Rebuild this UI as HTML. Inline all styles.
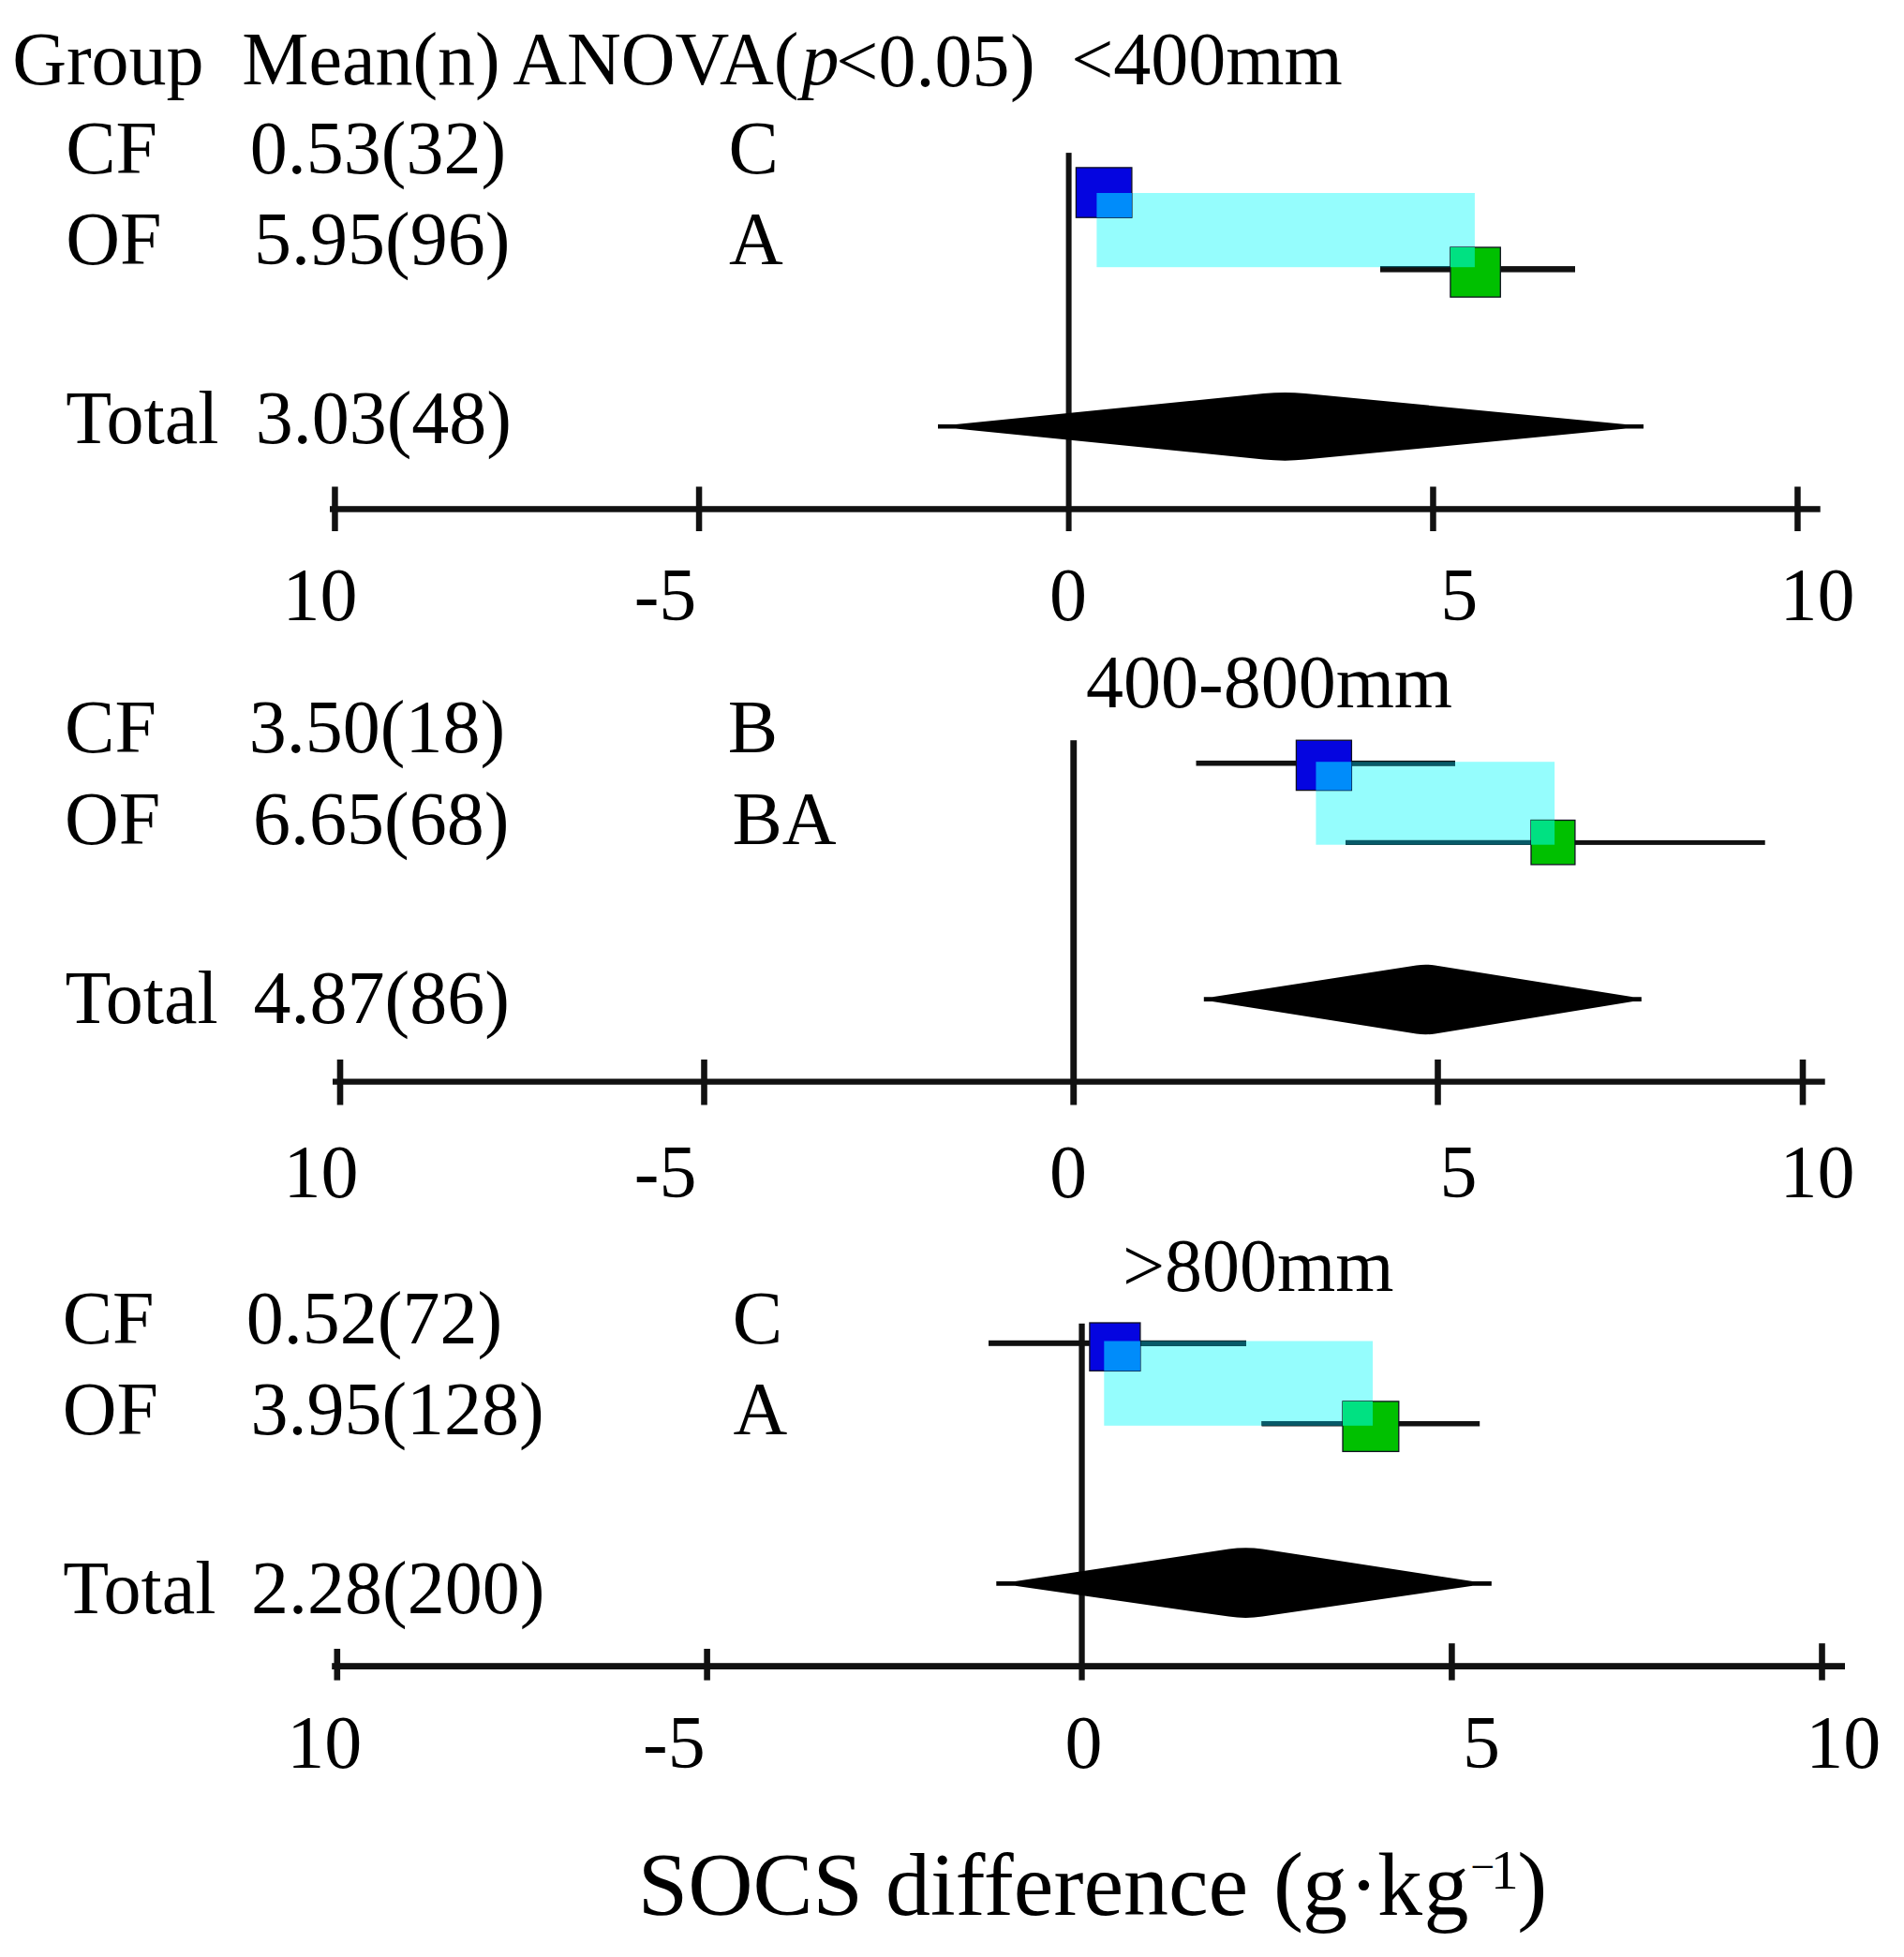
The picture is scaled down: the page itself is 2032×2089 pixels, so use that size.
<!DOCTYPE html>
<html><head><meta charset="utf-8"><title>SOCS difference forest plot</title>
<style>
html,body{margin:0;padding:0;background:#fff;}
body{width:2032px;height:2089px;overflow:hidden;}
svg{display:block;}
text{font-family:"Liberation Serif","Times New Roman",Times,serif;fill:#000;}
</style></head>
<body>
<svg width="2032" height="2089" viewBox="0 0 2032 2089">
<rect width="2032" height="2089" fill="#fff"/>
<rect x="352.0" y="540.2" width="1590.7" height="6.5" fill="#111"/>
<rect x="354.2" y="519.5" width="6.5" height="47.5" fill="#111"/>
<rect x="742.8" y="519.5" width="6.5" height="47.5" fill="#111"/>
<rect x="1526.2" y="519.5" width="6.5" height="47.5" fill="#111"/>
<rect x="1915.2" y="519.5" width="6.5" height="47.5" fill="#111"/>
<rect x="1137.6" y="163.1" width="6.0" height="403.9" fill="#111"/>
<path d="M1001.0,453.0 L1020.0,453.0 L1348.8,420.1 Q1370.8,417.9 1392.8,420.0 L1735.0,453.0 L1754.0,453.0 L1754.0,457.6 L1735.0,457.6 L1392.8,490.6 Q1370.8,492.7 1348.8,490.5 L1020.0,457.6 L1001.0,457.6 Z" fill="#000"/>
<rect x="1170.4" y="206.0" width="403.5" height="79.2" fill="#95fdfd"/>
<rect x="1473.0" y="284.1" width="208.0" height="6.5" fill="#111"/>
<rect x="1473.0" y="284.1" width="100.9" height="1.1" fill="#075a68"/>
<rect x="1148.4" y="178.9" width="59.5" height="53.3" fill="#0505e0" stroke="#101020" stroke-width="1.3"/>
<rect x="1170.4" y="206.0" width="37.5" height="26.2" fill="#008cfa"/>
<rect x="1547.9" y="264.0" width="53.4" height="53.1" fill="#00c000" stroke="#101020" stroke-width="1.3"/>
<rect x="1547.9" y="264.0" width="26.0" height="21.2" fill="#00e182"/>
<rect x="355.0" y="1151.5" width="1592.7" height="6.3" fill="#111"/>
<rect x="359.7" y="1131.0" width="6.6" height="48.5" fill="#111"/>
<rect x="748.2" y="1131.0" width="6.6" height="48.5" fill="#111"/>
<rect x="1531.2" y="1131.0" width="6.6" height="48.5" fill="#111"/>
<rect x="1920.7" y="1131.0" width="6.6" height="48.5" fill="#111"/>
<rect x="1142.3" y="790.2" width="6.9" height="389.3" fill="#111"/>
<path d="M1284.8,1064.3 L1293.8,1064.3 L1511.5,1030.5 Q1521.5,1028.9 1531.5,1030.5 L1742.8,1064.3 L1751.8,1064.3 L1751.8,1068.9 L1742.8,1068.9 L1531.5,1103.4 Q1521.5,1105.0 1511.5,1103.4 L1293.8,1068.9 L1284.8,1068.9 Z" fill="#000"/>
<rect x="1404.4" y="813.2" width="254.7" height="88.5" fill="#95fdfd"/>
<rect x="1276.5" y="811.9" width="276.5" height="5.6" fill="#111"/>
<rect x="1404.4" y="813.2" width="148.6" height="4.3" fill="#075a68"/>
<rect x="1436.1" y="896.9" width="447.6" height="5.0" fill="#111"/>
<rect x="1436.1" y="896.9" width="223.0" height="4.8" fill="#075a68"/>
<rect x="1383.4" y="790.2" width="59.0" height="53.4" fill="#0505e0" stroke="#101020" stroke-width="1.3"/>
<rect x="1404.4" y="813.2" width="38.0" height="30.4" fill="#008cfa"/>
<rect x="1634.0" y="875.5" width="46.9" height="47.4" fill="#00c000" stroke="#101020" stroke-width="1.3"/>
<rect x="1634.0" y="875.5" width="25.1" height="26.2" fill="#00e182"/>
<rect x="354.2" y="1775.2" width="1614.8" height="6.8" fill="#111"/>
<rect x="356.5" y="1760.0" width="6.6" height="33.6" fill="#111"/>
<rect x="751.3" y="1760.0" width="6.6" height="33.6" fill="#111"/>
<rect x="1546.1" y="1754.2" width="6.6" height="39.4" fill="#111"/>
<rect x="1941.2" y="1754.2" width="6.6" height="39.4" fill="#111"/>
<rect x="1151.4" y="1412.8" width="6.3" height="380.8" fill="#111"/>
<path d="M1063.3,1688.1 L1083.3,1688.1 L1311.4,1653.6 Q1329.4,1650.8 1347.4,1653.6 L1571.8,1688.1 L1591.8,1688.1 L1591.8,1692.7 L1571.8,1692.7 L1347.4,1725.6 Q1329.4,1728.2 1311.4,1725.6 L1083.3,1692.7 L1063.3,1692.7 Z" fill="#000"/>
<rect x="1178.3" y="1431.5" width="286.7" height="90.3" fill="#95fdfd"/>
<rect x="1055.0" y="1430.8" width="275.0" height="6.0" fill="#111"/>
<rect x="1178.3" y="1431.5" width="151.7" height="5.3" fill="#075a68"/>
<rect x="1346.5" y="1517.0" width="232.7" height="5.5" fill="#111"/>
<rect x="1346.5" y="1517.0" width="118.5" height="4.8" fill="#075a68"/>
<rect x="1162.9" y="1412.0" width="54.0" height="51.3" fill="#0505e0" stroke="#101020" stroke-width="1.3"/>
<rect x="1178.3" y="1431.5" width="38.6" height="31.8" fill="#008cfa"/>
<rect x="1433.0" y="1495.9" width="59.8" height="53.5" fill="#00c000" stroke="#101020" stroke-width="1.3"/>
<rect x="1433.0" y="1495.9" width="32.0" height="25.9" fill="#00e182"/>
<text x="13.2" y="90.0" font-size="80">Group</text>
<text x="258.3" y="90.0" font-size="80">Mean(n)</text>
<text x="547.2" y="90.0" font-size="80">ANOVA(</text>
<text x="855.6" y="90.0" font-size="80" font-style="italic">p</text>
<text x="892.3" y="92.0" font-size="80">&lt;0.05</text>
<text x="1078.0" y="91.5" font-size="80">)</text>
<text x="1143.2" y="90.4" font-size="80">&lt;400mm</text>
<text x="70.2" y="185.0" font-size="80">CF</text>
<text x="266.8" y="185.0" font-size="80">0.53(32)</text>
<text x="777.4" y="185.0" font-size="80">C</text>
<text x="70.2" y="281.5" font-size="80">OF</text>
<text x="271.0" y="281.5" font-size="80">5.95(96)</text>
<text x="777.9" y="281.7" font-size="80">A</text>
<text x="70.3" y="472.7" font-size="80">Total</text>
<text x="272.7" y="472.7" font-size="80">3.03(48)</text>
<text x="301.4" y="661.5" font-size="80">10</text>
<text x="676.7" y="661.5" font-size="80">-5</text>
<text x="1120.1" y="661.5" font-size="80">0</text>
<text x="1537.3" y="661.5" font-size="80">5</text>
<text x="1899.5" y="661.5" font-size="80">10</text>
<text x="1159.0" y="755.1" font-size="80">400-800mm</text>
<text x="69.1" y="803.3" font-size="80">CF</text>
<text x="265.8" y="803.3" font-size="80">3.50(18)</text>
<text x="776.8" y="803.3" font-size="80">B</text>
<text x="69.0" y="900.6" font-size="80">OF</text>
<text x="270.0" y="900.6" font-size="80">6.65(68)</text>
<text x="781.4" y="900.6" font-size="80">BA</text>
<text x="69.5" y="1091.9" font-size="80">Total</text>
<text x="270.6" y="1091.9" font-size="80">4.87(86)</text>
<text x="302.4" y="1278.3" font-size="80">10</text>
<text x="676.8" y="1278.3" font-size="80">-5</text>
<text x="1120.0" y="1278.3" font-size="80">0</text>
<text x="1536.4" y="1278.3" font-size="80">5</text>
<text x="1899.5" y="1278.3" font-size="80">10</text>
<text x="1198.0" y="1377.5" font-size="80">&gt;800mm</text>
<text x="66.7" y="1434.0" font-size="80">CF</text>
<text x="262.8" y="1434.0" font-size="80">0.52(72)</text>
<text x="781.8" y="1434.0" font-size="80">C</text>
<text x="66.7" y="1531.4" font-size="80">OF</text>
<text x="267.4" y="1531.4" font-size="80">3.95(128)</text>
<text x="782.4" y="1531.4" font-size="80">A</text>
<text x="67.2" y="1722.4" font-size="80">Total</text>
<text x="268.0" y="1722.4" font-size="80">2.28(200)</text>
<text x="306.3" y="1887.0" font-size="80">10</text>
<text x="686.0" y="1887.0" font-size="80">-5</text>
<text x="1136.4" y="1887.0" font-size="80">0</text>
<text x="1561.0" y="1887.0" font-size="80">5</text>
<text x="1927.3" y="1887.0" font-size="80">10</text>
<text x="680.8" y="2043.5" font-size="96">SOCS difference</text>
<text x="1359.0" y="2043.4" font-size="96">(</text>
<text x="1390.0" y="2043.5" font-size="96">g</text>
<text x="1439.6" y="2043.5" font-size="96">·</text>
<text x="1470.1" y="2043.8" font-size="96">k</text>
<text x="1519.4" y="2043.5" font-size="96">g</text>
<text x="1569.4" y="2008.4" font-size="46">−</text>
<text x="1590.8" y="2016.2" font-size="60">1</text>
<text x="1619.2" y="2043.4" font-size="96">)</text>
</svg>
</body></html>
